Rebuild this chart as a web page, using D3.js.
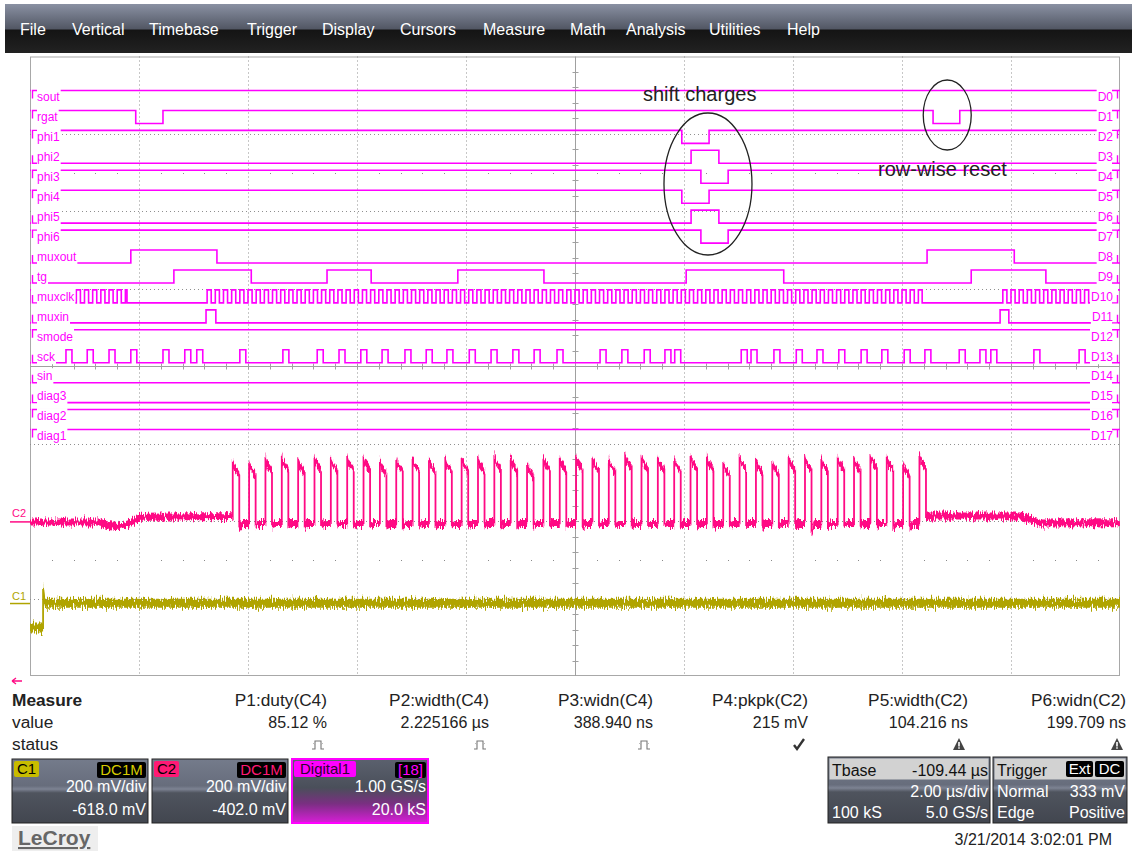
<!DOCTYPE html>
<html>
<head>
<meta charset="utf-8">
<title>LeCroy capture</title>
<script src="https://cdnjs.cloudflare.com/ajax/libs/d3/7.8.5/d3.min.js"></script>
<style>
  html, body { margin: 0; padding: 0; background: #ffffff; }
  svg { display: block; font-family: "Liberation Sans", Arial, sans-serif; }
</style>
</head>
<body>
<svg id="scope" width="1132" height="851"></svg>
<script>
// ---------------- data ----------------
const menuItems = ["File", "Vertical", "Timebase", "Trigger", "Display", "Cursors", "Measure", "Math", "Analysis", "Utilities", "Help"];

// digital channels D0..D17 (times in µs, 2 µs/div, screen centre = 0)
const digitalNames = ["sout", "rgat", "phi1", "phi2", "phi3", "phi4", "phi5", "phi6", "muxout", "tg",
                      "muxclk", "muxin", "smode", "sck", "sin", "diag3", "diag2", "diag1"];
const digitalIds = ["D0", "D1", "D2", "D3", "D4", "D5", "D6", "D7", "D8", "D9",
                    "D10", "D11", "D12", "D13", "D14", "D15", "D16", "D17"];
const digitalStart = [1, 1, 1, 0, 1, 1, 0, 1, 0, 0, 0, 0, 1, 0, 0, 0, 1, 1];

const rgatEdges   = [-8.06, -7.56, 6.57, 7.06];
const phi1Edges   = [1.96, 2.46];
const phi2Edges   = [2.13, 2.64];
const phi3Edges   = [2.31, 2.81];
const phi4Edges   = [1.96, 2.46];
const phi5Edges   = [2.13, 2.64];
const phi6Edges   = [2.31, 2.81];
const muxoutEdges = [-8.15, -6.57, 6.46, 8.06];
const tgEdges     = [-7.36, -5.94, -4.55, -3.74, -2.15, -0.57, 2.04, 3.83, 7.27, 8.64];
const muxinEdges  = [-6.77, -6.59, 7.80, 7.96];

// muxclk runs in bursts (start, stop) at a fixed clock period
const muxclkBursts = [[-10.05, -8.22], [-6.75, 6.37], [7.85, 10.1]];
const muxclkPeriod = 0.15;

// sck pulse rising edges and pulse width
const sckRise = [-9.34, -8.95, -8.55, -8.15, -7.56, -7.16, -6.94, -6.15, -5.36, -4.73, -4.33, -3.93,
                 -3.54, -3.12, -2.73, -2.35, -1.94, -1.54, -1.14, -0.75, -0.33, 0.46, 0.86, 1.27,
                 1.65, 1.83, 3.05, 3.23, 3.65, 4.06, 4.44, 4.84, 5.25, 5.63, 6.04, 6.42, 7.05,
                 7.43, 7.63, 8.42, 9.25];
const sckWidth = 0.11;

// analog channels (mV, 200 mV/div)
const c2Offset = -402;
const c1Offset = -618;
const c2Before = [[-10, 0], [-8.72, 0], [-8.53, -10], [-8.35, -12], [-8.2, -5], [-7.98, 12], [-6.28, 14]];
const c2Rise = [-6.28, -5.98, -5.68, -5.38, -5.08, -4.78, -4.48, -4.18, -3.88, -3.58, -3.28, -2.98,
                -2.68, -2.38, -2.08, -1.78, -1.48, -1.18, -0.88, -0.58, -0.28, 0.02, 0.32, 0.62,
                0.92, 1.22, 1.52, 1.82, 2.12, 2.42, 2.72, 3.02, 3.32, 3.62, 3.92, 4.22, 4.52,
                4.82, 5.12, 5.42, 5.72, 6.02, 6.32];
const c2Peak = [155, 153, 165, 168, 162, 168, 165, 168, 168, 157, 165, 165, 162, 165, 165, 165, 170,
                165, 152, 168, 165, 170, 165, 162, 173, 168, 168, 165, 170, 168, 152, 170, 160,
                157, 168, 168, 165, 168, 165, 173, 168, 152, 173];
const c2Low = [-14, -10, -8, -8, -10, -8, -8, -8, -10, -8, -12, -8, -8, -8, -8, -8, -8, -10, -8,
               -8, -10, -8, -8, -10, -8, -8, -8, -10, -8, -8, -8, -8, -10, -8, -8, -30, -10, -8,
               -8, -8, -14, -12, 15];
const c2Width = 0.12;
const c2After = [[6.5, 15], [8.17, 15], [8.35, 5], [8.53, -3], [10, -2]];
const c1Trace = [[-10, -58], [-9.76, -58], [-9.76, 45], [-9.73, 6], [10, 6]];

// measurement panel
const measureNames  = ["P1:duty(C4)", "P2:width(C4)", "P3:widn(C4)", "P4:pkpk(C2)", "P5:width(C2)", "P6:widn(C2)"];
const measureValues = ["85.12 %", "2.225166 µs", "388.940 ns", "215 mV", "104.216 ns", "199.709 ns"];
const measureStatus = ["pulse", "pulse", "pulse", "ok", "warn", "warn"];

// channel / timebase / trigger descriptors
const c1Info = ["200 mV/div", "-618.0 mV"];
const c2Info = ["200 mV/div", "-402.0 mV"];
const digInfo = ["1.00 GS/s", "20.0 kS"];
const tbaseInfo = ["-109.44 µs", "2.00 µs/div", "100 kS", "5.0 GS/s"];
const trigInfo = ["Normal", "333 mV", "Edge", "Positive"];
const stamp = "3/21/2014 3:02:01 PM";

// ---------------- drawing ----------------
const MAG = "#ff00ff", PINK = "#ff0a84", OLIVE = "#b0a400";
const svg = d3.select("#scope");
const defs = svg.append("defs");

function grad(id, stops) {
  const g = defs.append("linearGradient").attr("id", id)
    .attr("x1", 0).attr("y1", 0).attr("x2", 0).attr("y2", 1);
  stops.forEach(([o, c]) => g.append("stop").attr("offset", o).attr("stop-color", c));
}
grad("menuGrad", [[0, "#8a91a3"], [0.5, "#535865"], [0.54, "#141414"], [1, "#222222"]]);
grad("panelGrad", [[0, "#747b8b"], [0.42, "#676d7c"], [0.47, "#7d8393"], [0.53, "#4f545e"], [1, "#42464f"]]);
grad("digGrad", [[0, "#5b616e"], [0.45, "#4a4f5a"], [0.7, "#7a2f82"], [1, "#d81ed8"]]);

const flt = defs.append("filter").attr("id", "grain")
  .attr("x", "-2%").attr("y", "-40%").attr("width", "104%").attr("height", "180%")
  .attr("color-interpolation-filters", "sRGB");
flt.append("feTurbulence").attr("type", "fractalNoise").attr("baseFrequency", "0.9 0.12")
  .attr("numOctaves", 2).attr("seed", 7).attr("result", "n");
flt.append("feColorMatrix").attr("in", "n").attr("type", "matrix")
  .attr("values", "0 0 0 0 0.5  0 1 0 0 0  0 0 0 0 0  0 0 0 0 1").attr("result", "m");
flt.append("feDisplacementMap").attr("in", "SourceGraphic").attr("in2", "m").attr("scale", 12)
  .attr("xChannelSelector", "R").attr("yChannelSelector", "G");

const plot = { left: 30, right: 1120, top: 56.5, bottom: 676 };
defs.append("clipPath").attr("id", "plotClip").append("rect")
  .attr("x", plot.left).attr("y", plot.top)
  .attr("width", plot.right - plot.left).attr("height", plot.bottom - plot.top);

const x = d3.scaleLinear().domain([-10, 10]).range([plot.left, plot.right]);
const yA = d3.scaleLinear().domain([-800, 800]).range([plot.bottom, plot.top]);
const rowY = d3.scaleLinear().domain([0, 17]).range([97, 436]);

// ----- menu bar -----
svg.append("rect").attr("x", 5).attr("y", 4).attr("width", 1127).attr("height", 49).attr("fill", "url(#menuGrad)");
const menuX = [20, 72, 149, 247, 322, 400, 483, 570, 626, 709, 787];
svg.append("g").selectAll("text").data(menuItems).join("text")
  .attr("x", (d, i) => menuX[i]).attr("y", 35)
  .attr("fill", "#ffffff").attr("font-size", 16).text(d => d);

// ----- graticule -----
const grid = svg.append("g");
grid.append("rect").attr("x", plot.left + 0.5).attr("y", plot.top + 0.5)
  .attr("width", plot.right - plot.left - 1).attr("height", plot.bottom - plot.top - 1)
  .attr("fill", "none").attr("stroke", "#a8a8a8");
const vMajor = d3.range(-8, 9, 2).filter(t => t !== 0);
grid.selectAll("line.vg").data(vMajor).join("line").attr("class", "vg")
  .attr("x1", d => Math.round(x(d)) + 0.5).attr("x2", d => Math.round(x(d)) + 0.5)
  .attr("y1", plot.top).attr("y2", plot.bottom)
  .attr("stroke", "#8f8f8f").attr("stroke-dasharray", "1,3");
const hMajor = d3.range(-600, 601, 200).filter(v => v !== 0);
grid.selectAll("line.hg").data(hMajor).join("line").attr("class", "hg")
  .attr("y1", d => Math.round(yA(d)) + 0.5).attr("y2", d => Math.round(yA(d)) + 0.5)
  .attr("x1", plot.left).attr("x2", plot.right)
  .attr("stroke", "#8f8f8f").attr("stroke-dasharray", "1,3");
// sparse dot rows half a division inside
const dotT = d3.range(-9.6, 9.7, 0.4).filter(t => Math.abs(t / 2 - Math.round(t / 2)) > 0.01);
[500, -500].forEach(v => {
  grid.append("g").selectAll("rect").data(dotT).join("rect")
    .attr("x", d => Math.round(x(d))).attr("y", Math.round(yA(v)))
    .attr("width", 1).attr("height", 1).attr("fill", "#8a8a8a");
});
// centre axes with minor ticks
const cx = Math.round(x(0)) + 0.5, cy = Math.round(yA(0)) + 0.5;
grid.append("line").attr("x1", cx).attr("x2", cx).attr("y1", plot.top).attr("y2", plot.bottom).attr("stroke", "#a0a0a0");
grid.append("line").attr("y1", cy).attr("y2", cy).attr("x1", plot.left).attr("x2", plot.right).attr("stroke", "#a0a0a0");
grid.selectAll("line.tx").data(d3.range(-9.6, 9.7, 0.4)).join("line").attr("class", "tx")
  .attr("x1", d => Math.round(x(d)) + 0.5).attr("x2", d => Math.round(x(d)) + 0.5)
  .attr("y1", cy - 3).attr("y2", cy + 3).attr("stroke", "#a0a0a0");
grid.selectAll("line.ty").data(d3.range(-760, 761, 40)).join("line").attr("class", "ty")
  .attr("y1", d => Math.round(yA(d)) + 0.5).attr("y2", d => Math.round(yA(d)) + 0.5)
  .attr("x1", cx - 3).attr("x2", cx + 3).attr("stroke", "#a0a0a0");

// ----- digital channels -----
function clockEdges(bursts, period) {
  const half = period / 2, e = [];
  bursts.forEach(([a, b]) => {
    let n = 0;
    for (let k = 0; a + k * half < b - 1e-6; k++) { e.push(a + k * half); n++; }
    if (n % 2 === 1) e.push(b);
  });
  return e;
}
const pulseEdges = (rises, w) => rises.flatMap(r => [r, r + w]);
const digitalEdges = {
  sout: [], rgat: rgatEdges, phi1: phi1Edges, phi2: phi2Edges, phi3: phi3Edges, phi4: phi4Edges,
  phi5: phi5Edges, phi6: phi6Edges, muxout: muxoutEdges, tg: tgEdges,
  muxclk: clockEdges(muxclkBursts, muxclkPeriod), muxin: muxinEdges, smode: [],
  sck: pulseEdges(sckRise, sckWidth), sin: [], diag3: [], diag2: [], diag1: []
};
const level = (i, s) => rowY(i) + (s ? -6.5 : 6.5);

const dig = svg.append("g").attr("clip-path", "url(#plotClip)");
const stepLine = d3.line().curve(d3.curveStepAfter);
digitalNames.forEach((name, i) => {
  let s = digitalStart[i];
  const pts = [[x(-10.2), level(i, s)]];
  digitalEdges[name].forEach(t => { s = 1 - s; pts.push([x(t), level(i, s)]); });
  pts.push([x(10.2), level(i, s)]);
  dig.append("path").attr("d", stepLine(pts)).attr("fill", "none")
    .attr("stroke", MAG).attr("stroke-width", 1.6);
});

// channel labels on opaque backgrounds, with level markers
const labels = svg.append("g").attr("font-size", 12).attr("fill", MAG);
digitalNames.forEach((name, i) => {
  const yc = rowY(i);
  let s = digitalStart[i];
  const endState = digitalEdges[name].length % 2 ? 1 - s : s;
  // left
  const gl = labels.append("g");
  const rl = gl.append("rect").attr("fill", "#ffffff");
  const tl = gl.append("text").attr("x", 37).attr("y", yc).attr("dy", "0.36em").text(name);
  const wl = tl.node().getComputedTextLength();
  rl.attr("x", 31).attr("y", yc - 8).attr("width", 37 + wl - 31 + 1).attr("height", 16);
  const ly = level(i, s), dir = s ? 1 : -1;
  gl.append("path").attr("d", `M37,${ly}H32.5V${ly + dir * 8}`).attr("fill", "none")
    .attr("stroke", MAG).attr("stroke-width", 1.4);
  // right
  const gr = labels.append("g");
  const rr = gr.append("rect").attr("fill", "#ffffff");
  const tr = gr.append("text").attr("x", 1113).attr("y", yc).attr("dy", "0.36em")
    .attr("text-anchor", "end").text(digitalIds[i]);
  const wr = tr.node().getComputedTextLength();
  rr.attr("x", 1113 - wr - 1).attr("y", yc - 8).attr("width", wr + 6).attr("height", 16);
  const ry = level(i, endState), rdir = endState ? 1 : -1;
  gr.append("path").attr("d", `M1112,${ry}H1117.5V${ry + rdir * 8}`).attr("fill", "none")
    .attr("stroke", MAG).attr("stroke-width", 1.4);
});

// ----- analog channels -----
const yC2 = v => yA(v + c2Offset);
const yC1 = v => yA(v + c1Offset);

const c2Pts = c2Before.slice();
c2Rise.forEach((r, k) => {
  const prev = c2Pts[c2Pts.length - 1][1];
  const f = r + c2Width;
  c2Pts.push([r, prev], [r, c2Peak[k]], [r + 0.02, c2Peak[k] - 14], [f, c2Peak[k] - 34], [f, c2Low[k]]);
  if (k < c2Rise.length - 1) c2Pts.push([f + 0.06, -4], [c2Rise[k + 1], -4]);
});
c2After.forEach(p => c2Pts.push(p));

function drawAnalog(points, yf, color, band) {
  const g = svg.append("g").attr("clip-path", "url(#plotClip)").append("g").attr("filter", "url(#grain)");
  const area = d3.area().x(d => x(d[0])).y0(d => yf(d[1]) + band).y1(d => yf(d[1]) - band);
  const line = d3.line().x(d => x(d[0])).y(d => yf(d[1]));
  g.append("path").attr("d", area(points)).attr("fill", color);
  g.append("path").attr("d", line(points)).attr("fill", "none").attr("stroke", color).attr("stroke-width", 1.8);
}
drawAnalog(c2Pts, yC2, PINK, 3.5);
drawAnalog(c1Trace, yC1, OLIVE, 4.5);

// ground markers
const mk = svg.append("g").attr("font-size", 11);
mk.append("text").attr("x", 12).attr("y", yC2(0) - 5).attr("fill", PINK).text("C2");
mk.append("line").attr("x1", 10).attr("x2", 30).attr("y1", yC2(0)).attr("y2", yC2(0)).attr("stroke", PINK).attr("stroke-width", 1.5);
mk.append("text").attr("x", 12).attr("y", yC1(0) - 6).attr("fill", OLIVE).text("C1");
mk.append("line").attr("x1", 10).attr("x2", 30).attr("y1", yC1(0) - 2).attr("y2", yC1(0) - 2).attr("stroke", OLIVE).attr("stroke-width", 1.5);
mk.append("path").attr("d", "M22,681H12M12,681l4,-3M12,681l4,3").attr("fill", "none").attr("stroke", PINK).attr("stroke-width", 1.3);

// ----- annotations -----
const ann = svg.append("g").attr("fill", "#222").attr("font-size", 20);
ann.append("text").attr("x", 643).attr("y", 101).text("shift charges");
ann.append("text").attr("x", 878).attr("y", 176).text("row-wise reset");
ann.append("ellipse").attr("cx", x(2.44)).attr("cy", 184).attr("rx", 44).attr("ry", 71)
  .attr("fill", "none").attr("stroke", "#222").attr("stroke-width", 1.3);
ann.append("ellipse").attr("cx", x(6.83)).attr("cy", 115).attr("rx", 24).attr("ry", 35)
  .attr("fill", "none").attr("stroke", "#222").attr("stroke-width", 1.3);

// ----- measurement table -----
const meas = svg.append("g").attr("font-size", 16).attr("fill", "#222");
const stretch = (sel, k) => sel.each(function () {
  const w = this.getComputedTextLength();
  d3.select(this).attr("textLength", w * k).attr("lengthAdjust", "spacingAndGlyphs");
});
meas.append("text").attr("x", 12).attr("y", 706).attr("font-weight", "bold").text("Measure").call(stretch, 1.08);
meas.append("text").attr("x", 12).attr("y", 728).text("value").call(stretch, 1.08);
meas.append("text").attr("x", 12).attr("y", 750).text("status").call(stretch, 1.08);
const colR = [327, 489, 653, 808, 968, 1126];
meas.selectAll("text.mn").data(measureNames).join("text").attr("class", "mn")
  .attr("x", (d, i) => colR[i]).attr("y", 706).attr("text-anchor", "end").text(d => d).call(stretch, 1.08);
meas.selectAll("text.mv").data(measureValues).join("text").attr("class", "mv")
  .attr("x", (d, i) => colR[i]).attr("y", 728).attr("text-anchor", "end").text(d => d);
measureStatus.forEach((s, i) => {
  const g = meas.append("g").attr("transform", `translate(${colR[i] - 9},745)`);
  if (s === "pulse") {
    g.append("path").attr("d", "M-6,4H-3V-4H3V4H6").attr("fill", "none").attr("stroke", "#777").attr("stroke-width", 1.1);
    g.append("path").attr("d", "M-5,-2l2,2M5,-2l-2,2").attr("stroke", "#aaa").attr("stroke-width", 0.8);
  } else if (s === "ok") {
    g.append("path").attr("d", "M-5,0L-2,4L5,-6").attr("fill", "none").attr("stroke", "#333").attr("stroke-width", 2.4);
  } else {
    g.append("path").attr("d", "M0,-7L6,5H-6Z").attr("fill", "#444");
    g.append("rect").attr("x", -0.8).attr("y", -3).attr("width", 1.6).attr("height", 4.5).attr("fill", "#fff");
    g.append("rect").attr("x", -0.8).attr("y", 2.3).attr("width", 1.6).attr("height", 1.4).attr("fill", "#fff");
  }
});

// ----- channel panels -----
function badge(g, x0, y0, w, fill, label, color) {
  g.append("rect").attr("x", x0).attr("y", y0).attr("width", w).attr("height", 16).attr("rx", 2).attr("fill", fill);
  g.append("text").attr("x", x0 + w / 2).attr("y", y0 + 13).attr("text-anchor", "middle")
    .attr("font-size", 15).attr("fill", color).text(label);
}
function chanPanel(x0, name, nameFill, nameColor, nameW, tag, tagColor, tagW, lines, bg, border) {
  const g = svg.append("g");
  g.append("rect").attr("x", x0).attr("y", 759).attr("width", 136).attr("height", 64)
    .attr("fill", bg).attr("stroke", border).attr("stroke-width", border === "#222" ? 1 : 2);
  badge(g, x0 + 2, 761, nameW, nameFill, name, nameColor);
  badge(g, x0 + 134 - tagW, 762, tagW, "#000", tag, tagColor);
  g.append("text").attr("x", x0 + 134).attr("y", 792).attr("text-anchor", "end")
    .attr("font-size", 16).attr("fill", "#fff").text(lines[0]);
  g.append("text").attr("x", x0 + 134).attr("y", 815).attr("text-anchor", "end")
    .attr("font-size", 16).attr("fill", "#fff").text(lines[1]);
}
chanPanel(12, "C1", "#c8bc00", "#000", 25, "DC1M", "#d8cc00", 49, c1Info, "url(#panelGrad)", "#222");
chanPanel(152, "C2", "#ff1a75", "#000", 25, "DC1M", "#ff1a75", 49, c2Info, "url(#panelGrad)", "#222");
chanPanel(292, "Digital1", "#ff00ff", "#300030", 62, "[18]", "#ff00ff", 31, digInfo, "url(#digGrad)", "#ff00ff");

function infoPanel(x0, w, title, headRight, rows) {
  const g = svg.append("g");
  g.append("rect").attr("x", x0).attr("y", 757).attr("width", w).attr("height", 66)
    .attr("fill", "url(#panelGrad)").attr("stroke", "#222");
  g.append("rect").attr("x", x0 + 1.5).attr("y", 758.5).attr("width", w - 3).attr("height", 21).attr("fill", "#d2d2d2");
  g.append("text").attr("x", x0 + 4).attr("y", 776).attr("font-size", 16).attr("fill", "#111").text(title);
  headRight(g);
  rows.forEach(([t, anchor, yy]) => {
    g.append("text").attr("x", anchor === "end" ? x0 + w - 2 : x0 + 4).attr("y", yy)
      .attr("text-anchor", anchor).attr("font-size", 16).attr("fill", "#fff").text(t);
  });
}
infoPanel(828, 162, "Tbase", g => g.append("text").attr("x", 988).attr("y", 776).attr("text-anchor", "end")
    .attr("font-size", 16).attr("fill", "#111").text(tbaseInfo[0]),
  [[tbaseInfo[1], "end", 797], [tbaseInfo[2], "start", 818], [tbaseInfo[3], "end", 818]]);
infoPanel(993, 134, "Trigger", g => {
  badge(g, 1066, 761, 27, "#000", "Ext", "#fff");
  badge(g, 1095, 761, 29, "#000", "DC", "#fff");
}, [[trigInfo[0], "start", 797], [trigInfo[1], "end", 797], [trigInfo[2], "start", 818], [trigInfo[3], "end", 818]]);

// ----- footer -----
svg.append("rect").attr("x", 12).attr("y", 826).attr("width", 86).attr("height", 25).attr("fill", "#eeeeee");
svg.append("text").attr("x", 18).attr("y", 845).attr("font-size", 21).attr("font-weight", "bold")
  .attr("fill", "#666").attr("text-decoration", "underline").text("LeCroy");
svg.append("text").attr("x", 1112).attr("y", 845).attr("text-anchor", "end").attr("font-size", 16)
  .attr("fill", "#222").text(stamp);
</script>
</body>
</html>
